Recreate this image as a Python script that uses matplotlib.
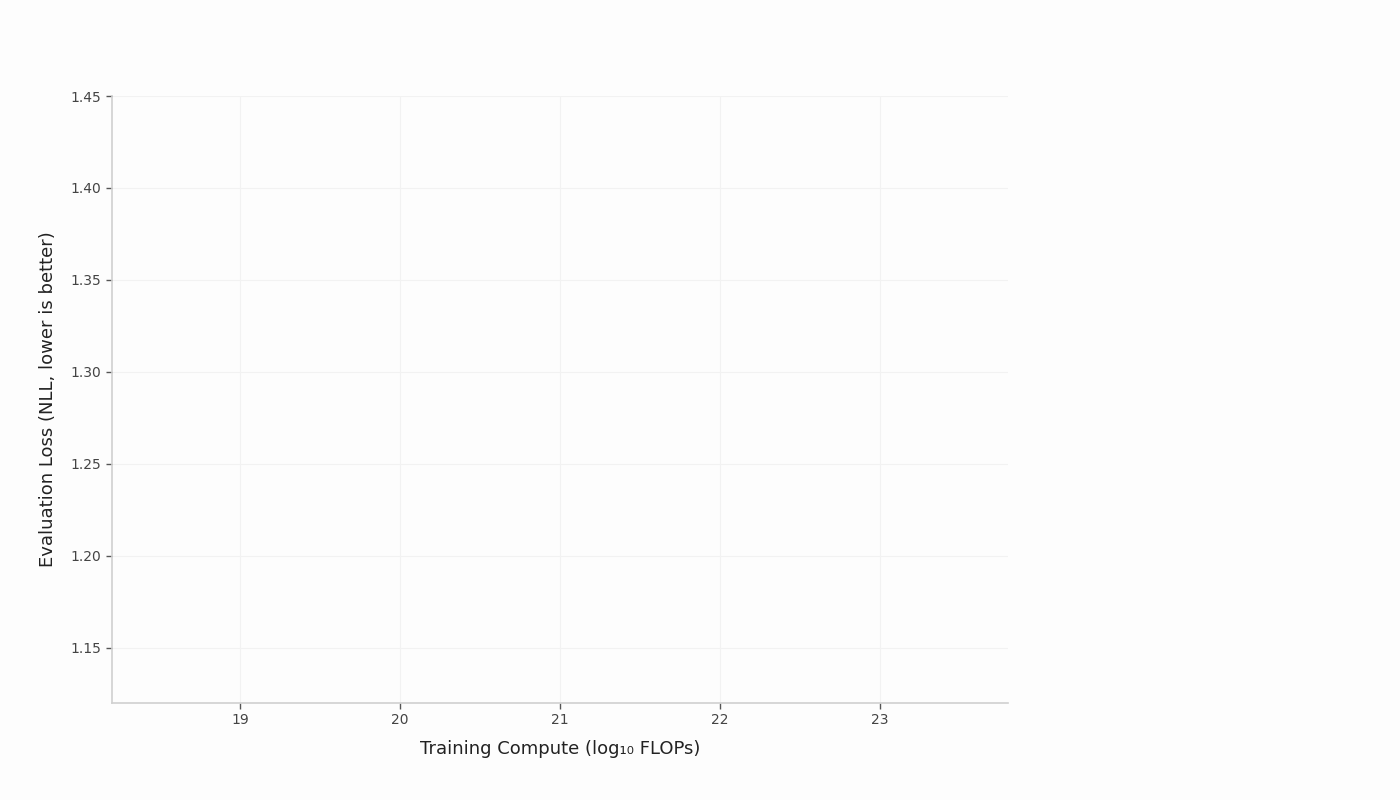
"""Scaling-law chart: evaluation loss vs training compute (no series drawn)."""

import matplotlib
matplotlib.use("Agg")
import matplotlib.pyplot as plt

plt.rcParams["font.family"] = ["DejaVu Sans"]

# Data — the reference shows only the empty frame, so the series are empty.
compute_log10 = []
eval_loss = []

x_ticks = [19, 20, 21, 22, 23]
y_ticks = [1.15, 1.20, 1.25, 1.30, 1.35, 1.40, 1.45]
x_limits = (18.2, 23.8)
y_limits = (1.12, 1.45)

BG = "#fdfdfd"

fig = plt.figure(figsize=(14, 8), dpi=100)
fig.patch.set_facecolor(BG)
ax = fig.add_axes([0.08, 0.12125, 0.64, 0.75875])
ax.set_facecolor(BG)

ax.plot(compute_log10, eval_loss, color="#1f77b4", marker="o", linewidth=2)

ax.set_xlim(*x_limits)
ax.set_ylim(*y_limits)
ax.set_xticks(x_ticks)
ax.set_yticks(y_ticks)
ax.set_yticklabels([f"{v:.2f}" for v in y_ticks])

ax.grid(True, color="#f2f2f2", linewidth=0.8)
ax.set_axisbelow(True)
for side in ("top", "right"):
    ax.spines[side].set_visible(False)
for side in ("left", "bottom"):
    ax.spines[side].set_color("#d0d0d0")
    ax.spines[side].set_linewidth(1.2)

ax.tick_params(axis="both", colors="#555555", labelcolor="#444444",
               labelsize=10, length=4, width=1)

ax.set_xlabel("Training Compute (log\u2081\u2080 FLOPs)", fontsize=13,
              color="#222222", labelpad=9)
ax.set_ylabel("Evaluation Loss (NLL, lower is better)", fontsize=13,
              color="#222222", labelpad=10)

fig.savefig("out.png", dpi=100, facecolor=BG)
